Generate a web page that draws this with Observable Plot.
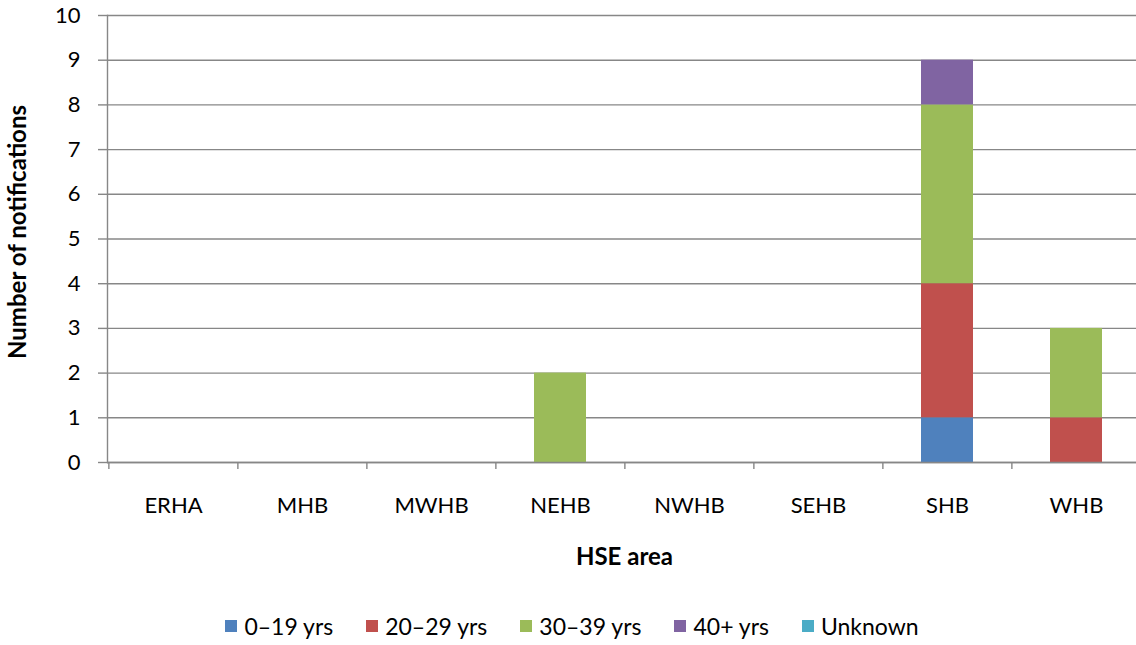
<!DOCTYPE html>
<html>
<head>
<meta charset="utf-8">
<script src="https://cdn.jsdelivr.net/npm/d3@7"></script>
<script src="https://cdn.jsdelivr.net/npm/@observablehq/plot@0.6"></script>
<style>
  body { margin: 0; background: #fff; font-family: Lato, "Open Sans", sans-serif; }
  #chart svg { display: block; }
  .legend { display: flex; justify-content: center; gap: 33px; font-size: 23px; color: #000; margin-top: 14px; padding-left: 8px; }
  .legend span.item { display: flex; align-items: center; }
  .legend span.sw { width: 12px; height: 12px; display: inline-block; margin-right: 7px; }
</style>
</head>
<body>
<div id="chart"></div>
<script>
const areas = ["ERHA", "MHB", "MWHB", "NEHB", "NWHB", "SEHB", "SHB", "WHB"];
const groups = ["0–19 yrs", "20–29 yrs", "30–39 yrs", "40+ yrs", "Unknown"];
const colors = ["#4F81BD", "#C0504D", "#9BBB59", "#8064A2", "#4BACC6"];
// values per group, aligned with areas
const age0_19  = [0, 0, 0, 0, 0, 0, 1, 0];
const age20_29 = [0, 0, 0, 0, 0, 0, 3, 1];
const age30_39 = [0, 0, 0, 2, 0, 0, 4, 2];
const age40p   = [0, 0, 0, 0, 0, 0, 1, 0];
const unknown  = [0, 0, 0, 0, 0, 0, 0, 0];
const yTicks = [0, 1, 2, 3, 4, 5, 6, 7, 8, 9, 10];

const series = [age0_19, age20_29, age30_39, age40p, unknown];
const data = [];
groups.forEach((g, gi) => areas.forEach((a, ai) => {
  data.push({area: a, group: g, value: series[gi][ai]});
}));

const W = 1136, H = 598, mL = 107, mR = -5, mT = 15, mB = 136;
const band = (W - mL - mR) / areas.length;
const grey = "#878787";

const chart = Plot.plot({
  width: W, height: H,
  marginLeft: mL, marginRight: mR, marginTop: mT, marginBottom: mB,
  style: {fontFamily: "Lato, 'Open Sans', sans-serif", fontSize: "22px", color: "#000", background: "#fff"},
  x: {domain: areas, paddingInner: 0.6, paddingOuter: 0.3, label: null},
  y: {domain: [0, 10], label: null},
  color: {domain: groups, range: colors},
  marks: [
    Plot.gridY(yTicks, {stroke: grey, strokeOpacity: 1, strokeWidth: 1.4}),
    Plot.barY(data, {x: "area", y: "value", fill: "group", order: groups}),
    Plot.ruleY([0], {stroke: grey, strokeWidth: 1.4}),
    Plot.frame({anchor: "left", stroke: grey, strokeWidth: 1.4}),
    Plot.axisY(yTicks, {tickSize: 9, tickPadding: 18, stroke: grey, strokeWidth: 1.4, fill: "#000", label: null}),
    Plot.ruleX(areas, {x: d => d, y1: 0, y2: 0, insetBottom: -7, dx: -band / 2, stroke: grey, strokeWidth: 1.4}),
    Plot.axisX({tickSize: 0, tickPadding: 35, fill: "#000", label: null}),
    Plot.text(["Number of notifications"], {frameAnchor: "left", textAnchor: "middle", dx: -89, dy: -7, rotate: -90, fontWeight: "bold", fontSize: 24, fill: "#000"}),
    Plot.text(["HSE area"], {frameAnchor: "bottom", dy: 102, fontWeight: "bold", fontSize: 24, fill: "#000"})
  ]
});
document.getElementById("chart").append(chart);

const legend = document.createElement("div");
legend.className = "legend";
groups.forEach((g, i) => {
  const item = document.createElement("span");
  item.className = "item";
  const sw = document.createElement("span");
  sw.className = "sw";
  sw.style.background = colors[i];
  item.append(sw, document.createTextNode(g));
  legend.append(item);
});
document.body.append(legend);
</script>
</body>
</html>
